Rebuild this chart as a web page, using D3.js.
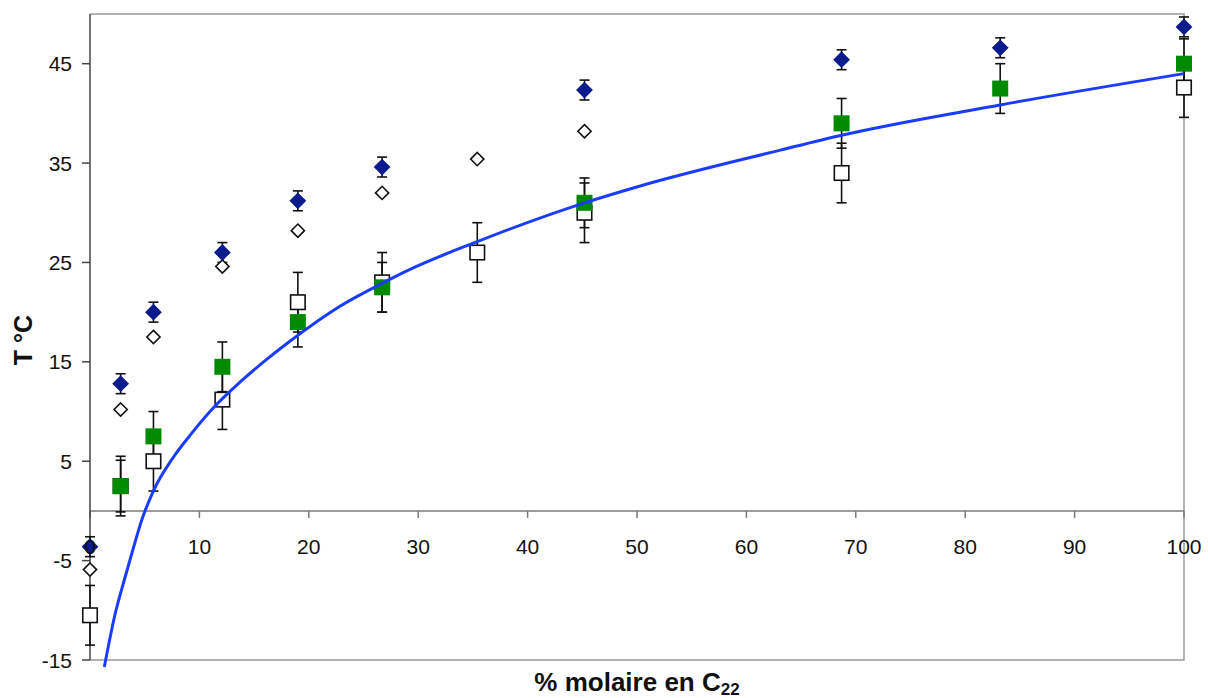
<!DOCTYPE html>
<html><head><meta charset="utf-8">
<script src="https://cdn.jsdelivr.net/npm/d3@7"></script>
<style>
html,body{margin:0;padding:0;background:#fff;}
svg{display:block;font-family:"Liberation Sans",Arial,Helvetica,sans-serif;}
</style></head>
<body><svg id="chart" width="1208" height="698"></svg>
<script>
// ---- data ----
const xTicks = [0,10,20,30,40,50,60,70,80,90,100];
const yTicks = [-15,-5,5,15,25,35,45];

// filled navy diamonds (with error bars)
const diamondFillX = [0, 2.8, 5.8, 12.1, 19.0, 26.7, 45.2, 68.7, 83.2, 100];
const diamondFillY = [-3.6, 12.8, 20.0, 26.0, 31.2, 34.6, 42.35, 45.4, 46.6, 48.7];
const diamondFillErr = [1, 1, 1, 1, 1, 1, 1, 1, 1, 1];

// open diamonds (no error bars)
const diamondOpenX = [0, 2.8, 5.8, 12.1, 19.0, 26.7, 35.4, 45.2];
const diamondOpenY = [-5.9, 10.2, 17.5, 24.6, 28.2, 32.0, 35.4, 38.2];

// open squares (with error bars)
const squareOpenX = [0, 2.8, 5.8, 12.1, 19.0, 26.7, 35.4, 45.2, 68.7, 100];
const squareOpenY = [-10.5, 2.5, 5.0, 11.2, 21.0, 23.0, 26.0, 30.0, 34.0, 42.6];
const squareOpenErr = [3, 2.6, 3, 3, 3, 3, 3, 3, 3, 3];

// green squares (with error bars)
const squareGreenX = [2.8, 5.8, 12.1, 19.0, 26.7, 45.2, 68.7, 83.2, 100];
const squareGreenY = [2.5, 7.5, 14.5, 19.0, 22.5, 31.0, 39.0, 42.5, 45.0];
const squareGreenErr = [3, 2.5, 2.5, 2.5, 2.5, 2.5, 2.5, 2.5, 2.5];

// fitted curve, points
const curveX = [1.31, 2.29, 3.2, 3.96, 4.72, 5.79, 7.62, 9.14, 11.43, 13.7, 16.15, 18.3, 22.85, 26.7, 29.25, 35.4, 45.2, 50.3, 63.1, 68.7, 83.2, 100];
const curveY = [-15.7, -10.4, -6.7, -3.75, -0.95, 2.0, 5.4, 7.6, 10.55, 12.95, 15.25, 17.1, 20.6, 22.9, 24.3, 27.1, 31.0, 32.7, 36.3, 37.8, 40.85, 44.0];

// ---- drawing ----
const svg = d3.select("#chart");
const x = d3.scaleLinear().domain([0,100]).range([90,1184]);
const y = d3.scaleLinear().domain([-15,50]).range([660,14]);

const zip = (xs, ys, es) => xs.map((v,i)=>({x:v, y:ys[i], e: es ? es[i] : 0}));
const dFill = zip(diamondFillX, diamondFillY, diamondFillErr);
const dOpen = zip(diamondOpenX, diamondOpenY);
const sOpen = zip(squareOpenX, squareOpenY, squareOpenErr);
const sGreen = zip(squareGreenX, squareGreenY, squareGreenErr);

// plot frame (top, right, bottom)
svg.append("path")
  .attr("d", `M${x(0)},${y(50)}H${x(100)}V${y(-15)}H${x(0)}`)
  .attr("fill","none").attr("stroke","#9a9a9a").attr("stroke-width",1.5);

// x axis at y = 0
const xAxisG = svg.append("g");
xAxisG.append("line").attr("x1",x(0)).attr("x2",x(100)).attr("y1",y(0)).attr("y2",y(0))
  .attr("stroke","#7a7a7a").attr("stroke-width",1.5);
xAxisG.selectAll("line.tick").data(xTicks).join("line").attr("class","tick")
  .attr("x1",d=>x(d)).attr("x2",d=>x(d)).attr("y1",y(0)).attr("y2",y(0)+7)
  .attr("stroke","#7a7a7a").attr("stroke-width",1.5);

// y axis
svg.append("line").attr("x1",x(0)).attr("x2",x(0)).attr("y1",y(50)).attr("y2",y(-15))
  .attr("stroke","#444").attr("stroke-width",1.5);
svg.selectAll("line.ytick").data(yTicks).join("line").attr("class","ytick")
  .attr("x1",x(0)-8).attr("x2",x(0)).attr("y1",d=>y(d)).attr("y2",d=>y(d))
  .attr("stroke","#444").attr("stroke-width",1.5);
svg.selectAll("text.ylab").data(yTicks).join("text").attr("class","ylab")
  .attr("x",72).attr("y",d=>y(d)).attr("dy","0.36em").attr("text-anchor","end")
  .attr("font-size",21).attr("fill","#111").text(d=>d);

// error bars
function errorBars(data){
  const g = svg.append("g").attr("stroke","#111").attr("stroke-width",1.6).attr("fill","none");
  data.forEach(d=>{
    const cx = x(d.x), t = y(d.y + d.e), b = y(d.y - d.e);
    g.append("line").attr("x1",cx).attr("x2",cx).attr("y1",t).attr("y2",b);
    g.append("line").attr("x1",cx-5).attr("x2",cx+5).attr("y1",t).attr("y2",t);
    g.append("line").attr("x1",cx-5).attr("x2",cx+5).attr("y1",b).attr("y2",b);
  });
}
errorBars(sOpen);
errorBars(sGreen);
errorBars(dFill);

const diamond = (r)=>`M0,${-r}L${r},0L0,${r}L${-r},0Z`;

// open squares
svg.append("g").selectAll("rect").data(sOpen).join("rect")
  .attr("x",d=>x(d.x)-7.25).attr("y",d=>y(d.y)-7.25).attr("width",14.5).attr("height",14.5)
  .attr("fill","#fff").attr("stroke","#111").attr("stroke-width",1.6);
// green squares
svg.append("g").selectAll("rect").data(sGreen).join("rect")
  .attr("x",d=>x(d.x)-8).attr("y",d=>y(d.y)-8).attr("width",16).attr("height",16)
  .attr("fill","#008a00");
// open diamonds
svg.append("g").selectAll("path").data(dOpen).join("path")
  .attr("transform",d=>`translate(${x(d.x)},${y(d.y)})`).attr("d",diamond(6.6))
  .attr("fill","#fff").attr("stroke","#111").attr("stroke-width",1.6);
// filled diamonds
svg.append("g").selectAll("path").data(dFill).join("path")
  .attr("transform",d=>`translate(${x(d.x)},${y(d.y)})`).attr("d",diamond(8.4))
  .attr("fill","#0b1a8c");

// curve
const curveData = curveX.map((v,i)=>[v, curveY[i]]);
svg.append("path").datum(curveData)
  .attr("d", d3.line().x(d=>x(d[0])).y(d=>y(d[1])).curve(d3.curveMonotoneX))
  .attr("fill","none").attr("stroke","#1a3cff").attr("stroke-width",3);

// x tick labels
svg.selectAll("text.xlab").data(xTicks).join("text").attr("class","xlab")
  .attr("x",d=>x(d)).attr("y",554).attr("text-anchor","middle")
  .attr("font-size",21).attr("fill","#111").text(d=>d);

// axis titles
const xt = svg.append("text").attr("x",637).attr("y",691).attr("text-anchor","middle")
  .attr("font-size",26).attr("font-weight","bold").attr("fill","#111");
xt.append("tspan").text("% molaire en C");
xt.append("tspan").attr("font-size",17).attr("dy",4).text("22");

svg.append("text").attr("transform","translate(32,340) rotate(-90)")
  .attr("text-anchor","middle").attr("font-size",25).attr("font-weight","bold")
  .attr("fill","#111").text("T °C");
</script></body></html>
